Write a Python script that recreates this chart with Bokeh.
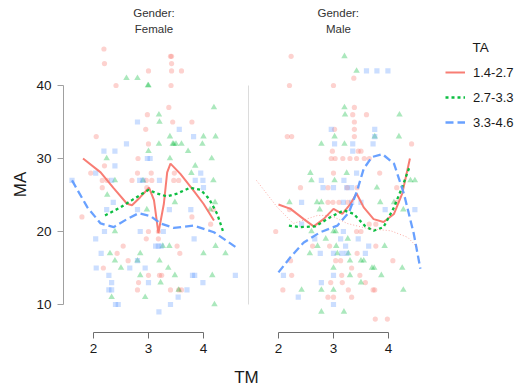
from bokeh.plotting import figure
from bokeh.layouts import column, row
from bokeh.models import Range1d, FixedTicker, Legend, LegendItem, Label, Title
from bokeh.embed import file_html
from bokeh.resources import INLINE

FONT = "Liberation Sans"

# ---------------- data ----------------
GROUPS = ["1.4-2.7", "2.7-3.3", "3.3-4.6"]
COLORS = ["#F8766D", "#00BA38", "#619CFF"]
MARKERS = ["circle", "triangle", "square"]
DASHES = ["solid", "3 3", "8 4"]
FACET_LABEL = "Gender:"
FACETS = ["Female", "Male"]
LEGEND_TITLE = "TA"
X_LABEL = "TM"
Y_LABEL = "MA"
TM_TICKS = [2, 3, 4]
MA_TICKS = [10, 20, 30, 40]

# points (TM, MA) -- Female
f_lo = [(2.19,45),(3.4,44),(3.42,44),(2.2,43),(3.42,43),(3.0,42),(3.42,42),(3.6,42),(2.41,40),(3.41,40),
        (3.37,37),(2.98,36),(3.44,35),(3.79,35),(2.95,34),(2.05,33),(3.0,32),(2.81,30),(2.2,29),(1.95,28),
        (2.8,28),(3.05,28),(3.47,28),(2.16,27),(2.25,27),(2.7,27),(2.96,27),(3.06,27),(3.46,27),(3.55,27),
        (2.16,26),(2.97,26),(1.79,22),(3.79,22),(4.18,23),(4.13,21),(3.0,20),(3.18,20),(2.96,19),(3.18,19),
        (2.54,18),(3.52,18),(2.43,17),(3.57,17),(2.63,16),(2.18,15),(3.0,14),(3.2,14),(3.24,14),(2.82,13),
        (2.8,12),(3.4,12),(3.55,12),(3.6,12)]
f_mid = [(2.6,41),(2.8,41),(2.99,40),(3.0,40),(4.19,37),(3.19,36),(3.2,35),(3.39,33),(4.0,33),(4.22,33),
         (3.19,32),(3.44,32),(3.46,32),(3.5,32),(3.6,32),(3.98,32),(3.0,31),(3.72,31),(2.24,30),(3.39,30),
         (4.15,30),(3.85,29),(3.78,28),(2.39,27),(2.9,27),(4.18,27),(2.25,25),(3.48,24),(4.21,24),(2.97,23),
         (4.12,23),(2.39,20),(3.26,18),(3.38,18),(4.22,18),(2.3,17),(2.85,17),(4.0,17),(4.4,17),(2.39,16),
         (2.8,16),(3.2,16),(2.5,15),(3.36,15),(2.85,14),(3.48,14),(4.16,14),(3.22,13),(3.55,12),(2.33,11),
         (2.94,11),(4.2,10)]
f_hi = [(2.8,35),(3.56,34),(3.82,33),(2.6,32),(2.19,31),(2.39,31),(2.98,30),(3.03,30),(2.39,29),(2.04,28),
        (3.95,28),(1.61,27),(2.33,27),(2.84,27),(2.9,27),(3.2,27),(3.85,27),(3.99,27),(4.0,26),(2.36,24),
        (2.24,23),(2.8,23),(3.38,23),(3.77,23),(2.2,20),(2.85,20),(3.27,20),(2.04,19),(3.83,19),(3.13,18),
        (3.18,18),(3.23,18),(2.14,17),(2.8,16),(2.05,15),(2.66,15),(2.94,15),(2.28,14),(3.8,14),(3.84,14),
        (4.58,14),(2.33,13),(3.0,13),(3.99,13),(2.28,12),(2.33,12),(3.7,12),(3.54,11),(2.4,10),(2.45,10),
        (3.4,10),(3.19,9)]
# points (TM, MA) -- Male
m_lo = [(2.23,44),(3.37,41),(2.2,40),(3.0,40),(3.38,37),(3.35,36),(3.6,36),(3.38,35),(3.02,34),(3.38,34),
        (2.16,33),(2.24,33),(3.38,33),(4.42,32),(2.98,31),(3.45,31),(3.5,31),(2.96,30),(3.03,30),(3.17,30),
        (3.3,30),(3.42,30),(3.56,30),(3.65,30),(3.0,28),(3.84,28),(2.4,26),(2.9,26),(3.25,26),(3.43,26),
        (4.15,26),(2.9,24),(2.99,24),(3.1,24),(3.26,24),(4.15,24),(2.2,23),(3.65,21),(3.77,21),(1.95,20),
        (3.42,20),(3.5,20),(2.62,18),(2.93,18),(3.77,18),(3.43,17),(2.22,16),(3.04,16),(3.13,16),(4.08,16),
        (3.33,15),(2.24,14),(3.15,14),(3.48,14),(2.95,13),(3.16,13),(3.58,13),(2.08,12),(3.27,12),(3.72,12),
        (3.75,12),(2.9,11),(3.0,11),(3.33,11),(3.76,8),(3.98,8)]
m_mid = [(3.2,44),(3.42,42),(3.2,37),(3.21,36),(4.2,36),(3.02,33),(3.75,33),(4.19,33),(2.78,32),(3.2,32),
         (2.58,28),(3.24,28),(2.6,27),(3.02,27),(4.4,27),(4.48,27),(3.79,26),(2.2,24),(2.7,24),(2.78,24),
         (3.85,24),(4.1,24),(2.75,23),(4.27,23),(2.6,20),(3.0,20),(3.04,20),(2.86,19),(3.26,19),(2.71,18),
         (3.05,18),(3.93,18),(2.57,17),(3.07,17),(3.27,17),(3.3,16),(3.5,16),(3.55,16),(3.0,15),(3.7,15),
         (3.74,15),(4.25,15),(3.3,14),(3.87,14),(3.5,13),(2.42,12),(2.78,12),(3.0,12),(4.27,12),(2.78,9),
         (3.19,9)]
m_hi = [(3.6,42),(3.79,42),(3.99,42),(2.96,34),(3.75,34),(3.75,33),(3.02,32),(3.35,32),(3.72,32),(3.35,31),
        (3.42,28),(2.78,27),(3.19,27),(2.81,26),(3.0,26),(3.24,26),(3.33,26),(2.42,24),(3.18,24),(3.33,24),
        (3.5,24),(3.94,23),(4.48,23),(2.42,21),(3.18,20),(2.66,19),(3.13,19),(3.45,19),(3.22,18),(3.64,18),
        (2.76,17),(3.0,17),(3.15,17),(3.24,17),(3.58,17),(2.09,14),(3.0,14),(2.78,13),(2.36,11),(3.0,10)]

# smoothed fits (TM, MA)
f_lo_fit = [(1.81,30.0),(2.13,28.1),(2.37,25.9),(2.61,23.8),(2.70,23.6),(2.85,24.7),(3.01,26.0),(3.10,24.3),
            (3.18,19.8),(3.28,23.8),(3.34,28.1),(3.40,29.3),(3.58,27.9),(3.82,25.6),(4.00,23.8),(4.19,21.5)]
f_mid_fit = [(2.21,22.2),(2.49,23.3),(2.70,24.3),(3.00,25.7),(3.16,25.2),(3.34,24.8),(3.52,25.2),(3.76,26.0),
             (3.95,25.7),(4.10,24.5),(4.25,22.4),(4.37,19.7)]
f_hi_fit = [(1.61,27.0),(1.89,23.3),(2.13,21.1),(2.37,20.6),(2.61,21.7),(2.82,22.5),(3.04,22.1),(3.22,21.1),
            (3.46,20.5),(3.82,20.8),(4.19,19.9),(4.58,17.9)]
m_lo_fit = [(2.00,23.7),(2.22,23.1),(2.46,21.7),(2.64,20.7),(2.82,21.7),(3.00,23.1),(3.16,22.4),(3.31,23.8),
            (3.42,25.2),(3.55,23.3),(3.73,21.7),(3.91,21.3),(4.10,22.4),(4.25,25.2),(4.39,30.0)]
m_mid_fit = [(2.19,20.8),(2.40,20.6),(2.67,20.7),(2.95,22.0),(3.19,22.9),(3.37,22.4),(3.58,20.7),(3.73,20.1),
             (3.91,20.6),(4.10,23.3),(4.25,26.1),(4.39,29.0)]
m_hi_fit = [(2.00,14.4),(2.22,16.5),(2.46,18.5),(2.76,19.9),(3.07,20.8),(3.28,22.6),(3.43,25.6),(3.55,28.6),
            (3.70,30.2),(3.89,30.6),(4.10,29.3),(4.28,25.2),(4.46,19.7),(4.58,14.9)]
m_all_fit = [(1.60,27.0),(1.98,23.3),(2.27,21.1),(2.71,22.2),(2.95,22.2),(3.25,21.1),(3.62,20.4),(4.04,20.1),
             (4.35,19.2),(4.53,17.8)]

female_points = [f_lo, f_mid, f_hi]
male_points = [m_lo, m_mid, m_hi]
female_fits = [f_lo_fit, f_mid_fit, f_hi_fit]
male_fits = [m_lo_fit, m_mid_fit, m_hi_fit]

# ---------------- layout geometry (pixels) ----------------
PX_PER_TM = 55.0
TM_START = 1.455
PANEL_W = 181
FRAME_TOP = 36
FRAME_H = 296
H_MAIN = 365
P1_W = 248
P2_W = 271

y_range = Range1d(6.164, 6.164 + FRAME_H / 7.3)
x_range_f = Range1d(TM_START, TM_START + PANEL_W / PX_PER_TM)
x_range_m = Range1d(TM_START, TM_START + P2_W / PX_PER_TM)

common = dict(height=H_MAIN, y_range=y_range, output_backend="svg", toolbar_location=None,
              min_border_top=FRAME_TOP, min_border_bottom=H_MAIN - FRAME_TOP - FRAME_H, title=None)
p1 = figure(width=P1_W, x_range=x_range_f, min_border_left=63, min_border_right=4, **common)
p2 = figure(width=P2_W, x_range=x_range_m, min_border_left=0, min_border_right=0, **common)


def facet_titles(p, offsets):
    for txt, stand, off in [(FACETS[0 if p is p1 else 1], 4, offsets[0]), (FACET_LABEL, 0, offsets[1])]:
        t = Title(text=txt, text_font=FONT, text_font_size="11.5px", text_font_style="normal",
                  text_color="#333333", standoff=stand)
        if off is None:
            t.align = "center"
        else:
            t.align = "left"
            t.offset = off
        p.add_layout(t, "above")


def style(p):
    p.xgrid.visible = False
    p.ygrid.visible = False
    p.outline_line_color = None
    xa = p.xaxis[0]
    xa.ticker = FixedTicker(ticks=TM_TICKS)
    xa.bounds = (2, 4)
    xa.axis_line_color = "#6e6e6e"
    xa.major_tick_line_color = "#6e6e6e"
    xa.major_tick_out = 6
    xa.major_tick_in = 0
    xa.minor_tick_out = 0
    xa.minor_tick_in = 0
    xa.major_label_text_font = FONT
    xa.major_label_text_font_size = "13.5px"
    xa.major_label_text_color = "#1a1a1a"
    xa.major_label_standoff = 5
    ya = p.yaxis[0]
    ya.bounds = (10, 40)
    ya.minor_tick_out = 0
    ya.minor_tick_in = 0
    ya.major_tick_in = 0


style(p1)
style(p2)
facet_titles(p1, (None, None))
facet_titles(p2, (77.5, 69))

ya = p1.yaxis[0]
ya.ticker = FixedTicker(ticks=MA_TICKS)
ya.axis_line_color = "#a0a0a0"
ya.major_tick_line_color = "#a0a0a0"
ya.major_tick_out = 6
ya.major_label_text_font = FONT
ya.major_label_text_font_size = "13.5px"
ya.major_label_text_color = "#1a1a1a"
ya.major_label_standoff = 6
ya.axis_label = Y_LABEL
ya.axis_label_text_font = FONT
ya.axis_label_text_font_size = "17px"
ya.axis_label_text_font_style = "normal"
ya.axis_label_text_color = "#1a1a1a"
ya.axis_label_standoff = 3

ya2 = p2.yaxis[0]
ya2.ticker = FixedTicker(ticks=[])
ya2.axis_line_color = "#dcdcdc"
ya2.major_tick_out = 0
ya2.major_label_standoff = 0

line_renderers = []
for p, pts_list, fits in [(p1, female_points, female_fits), (p2, male_points, male_fits)]:
    for i in range(3):
        xs = [a for a, b in pts_list[i]]
        ys = [b for a, b in pts_list[i]]
        p.scatter(xs, ys, marker=MARKERS[i], size=6.5 if MARKERS[i] == "triangle" else 5.2,
                  fill_color=COLORS[i], fill_alpha=0.33, line_color=None)
    for i in range(3):
        xs = [a for a, b in fits[i]]
        ys = [b for a, b in fits[i]]
        r = p.line(xs, ys, line_color=COLORS[i], line_width=2.3 if i != 0 else 2,
                   line_dash=DASHES[i], line_alpha=0.95)
        if p is p2:
            line_renderers.append(r)

p2.line([a for a, b in m_all_fit], [b for a, b in m_all_fit], line_color="#F8766D",
        line_width=1, line_dash="1 2", line_alpha=0.6)

legend = Legend(items=[LegendItem(label=GROUPS[i], renderers=[line_renderers[i]]) for i in range(3)],
                location=(197, 200), padding=0, margin=0, spacing=5, glyph_width=20, glyph_height=20,
                label_height=20, label_standoff=8, label_text_font=FONT, label_text_font_size="13px",
                label_text_color="#1a1a1a", background_fill_alpha=0, border_line_alpha=0)
p2.add_layout(legend)
p2.add_layout(Label(x=224, y=285, x_units="screen", y_units="screen", text=LEGEND_TITLE,
                    text_font=FONT, text_font_size="13.5px", text_color="#1a1a1a",
                    text_baseline="middle", text_align="left"))

strip = figure(width=P1_W + P2_W, height=390 - H_MAIN, output_backend="svg", toolbar_location=None,
               min_border_left=63, min_border_right=P1_W + P2_W - 63 - 2 * PANEL_W - 4,
               min_border_top=3, min_border_bottom=0,
               x_range=Range1d(0, 1), y_range=Range1d(0, 1), title=X_LABEL)
strip.axis.visible = False
strip.grid.visible = False
strip.outline_line_color = None
strip.title.align = "center"
strip.title.text_font = FONT
strip.title.text_font_size = "17px"
strip.title.text_font_style = "normal"
strip.title.text_color = "#1a1a1a"
strip.title.standoff = 0

layout = column(row(p1, p2), strip)
open("out.html", "w").write(file_html(layout, INLINE))
